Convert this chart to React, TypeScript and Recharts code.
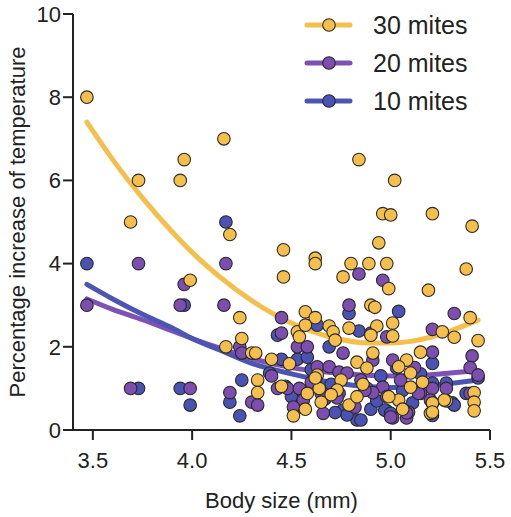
import { ComposedChart, Scatter, Line, XAxis, YAxis } from "recharts";

const xTicks = [3.5, 4.0, 4.5, 5.0, 5.5];
const yTicks = [0, 2, 4, 6, 8, 10];

// [body size (mm), % temperature increase]
const mites30: [number, number][] = [
  [3.47, 8.0], [3.73, 6.0], [3.69, 5.0], [3.94, 6.0], [3.96, 6.5], [4.16, 7.0],
  [4.19, 4.7], [3.99, 3.6], [4.24, 2.7], [4.17, 2.0], [4.25, 2.2], [4.3, 1.85],
  [4.33, 1.2], [4.33, 0.9], [4.84, 6.5], [5.02, 6.0], [4.96, 5.2], [5.0, 5.17],
  [5.21, 5.2], [5.41, 4.9], [4.94, 4.5], [4.46, 4.33], [4.62, 4.13], [4.62, 4.0],
  [4.8, 4.0], [4.89, 4.0], [4.98, 4.0], [4.46, 3.68], [4.76, 3.68], [5.38, 3.87],
  [4.99, 3.4], [5.19, 3.36], [4.9, 3.0], [4.92, 2.95], [5.4, 2.7], [5.44, 2.15],
  [5.32, 2.23], [5.26, 2.36], [5.15, 1.87], [5.42, 0.9], [5.42, 0.67], [5.42, 0.46],
  [5.28, 0.7], [5.2, 0.4], [4.57, 2.84], [4.62, 2.7], [4.53, 2.36], [4.54, 2.24],
  [4.57, 2.52], [4.69, 2.5], [4.71, 2.36], [4.72, 2.16], [4.79, 2.45], [4.93, 2.5],
  [5.01, 2.57], [5.01, 2.26], [4.9, 2.28], [4.83, 1.63], [4.88, 1.49], [4.91, 1.85],
  [5.08, 1.68], [5.04, 1.52], [5.1, 1.37], [4.32, 1.85], [4.4, 1.7], [4.49, 1.59],
  [4.63, 1.32], [4.75, 1.2], [4.64, 1.0], [4.58, 0.88], [4.65, 0.67], [4.51, 0.34],
  [4.57, 0.5], [4.79, 0.6], [4.83, 0.8], [5.04, 0.72], [4.99, 0.8], [5.1, 1.03],
  [5.16, 1.15], [5.27, 0.72], [5.21, 0.65], [5.21, 0.43], [4.73, 0.96], [4.62, 1.25],
  [4.45, 1.05], [4.7, 0.85], [4.86, 1.1], [5.06, 0.5],
];

const mites20: [number, number][] = [
  [3.47, 3.0], [3.73, 4.0], [3.69, 1.0], [3.94, 3.0], [3.96, 3.5], [3.99, 1.0],
  [4.17, 4.0], [4.16, 3.0], [4.24, 2.0], [4.25, 1.85], [4.19, 0.9], [4.3, 0.67],
  [4.33, 0.6], [4.84, 3.75], [4.96, 3.6], [4.79, 3.0], [5.32, 2.8], [5.21, 2.42],
  [5.21, 1.87], [5.41, 1.78], [5.4, 1.5], [5.44, 1.32], [5.21, 0.65], [5.28, 1.0],
  [5.21, 1.0], [4.45, 2.7], [4.45, 2.33], [4.9, 2.33], [4.98, 2.24], [4.53, 2.0],
  [4.58, 2.0], [4.76, 1.85], [4.91, 1.68], [5.01, 1.68], [4.63, 1.52], [4.69, 1.52],
  [4.74, 1.39], [4.78, 1.37], [4.85, 1.2], [4.43, 1.0], [4.48, 1.0], [4.54, 1.0],
  [4.56, 0.72], [4.65, 0.88], [4.51, 0.55], [4.74, 0.88], [4.73, 0.77], [4.96, 1.03],
  [4.98, 0.8], [5.01, 0.29], [5.08, 0.29], [5.15, 0.88], [5.09, 0.43], [5.05, 1.2],
  [5.2, 0.72], [5.08, 0.41], [4.91, 0.9], [5.14, 0.88], [5.4, 0.88], [5.0, 0.31],
  [4.4, 1.3], [4.6, 1.15], [4.82, 0.55], [4.87, 0.95], [5.12, 1.5], [4.66, 0.4],
];

const mites10: [number, number][] = [
  [3.47, 4.0], [3.73, 1.0], [3.94, 1.0], [3.96, 3.0], [3.99, 0.6], [4.17, 5.0],
  [4.25, 1.2], [4.19, 0.67], [4.24, 0.34], [4.79, 2.8], [5.04, 2.85], [5.21, 1.6],
  [5.44, 1.25], [5.38, 0.88], [5.31, 0.65], [5.21, 0.35], [4.43, 2.28], [4.63, 2.52],
  [4.84, 2.38], [4.69, 2.0], [4.45, 1.7], [4.53, 1.7], [4.39, 1.37], [4.51, 0.8],
  [4.76, 0.48], [4.83, 0.24], [4.9, 0.5], [4.88, 1.0], [4.98, 0.46], [5.11, 0.65],
  [5.03, 1.49], [5.21, 1.13], [5.28, 1.13], [5.32, 0.6], [4.97, 0.48], [5.0, 0.4],
  [4.5, 0.8], [4.78, 0.36], [4.85, 0.24], [4.6, 1.45], [4.7, 1.1], [4.95, 1.3],
  [5.15, 1.35], [4.47, 1.05], [4.55, 0.55], [4.67, 0.75], [4.72, 0.42], [4.93, 0.7],
  [5.06, 0.95], [4.58, 1.75],
];

// fitted trend curves, sampled along body size
const fitSizes = [3.47, 3.6, 3.75, 3.9, 4.0, 4.15, 4.3, 4.5, 4.7, 4.9, 5.0, 5.1, 5.2, 5.3, 5.44];
const fit30 = [7.4, 6.5, 5.58, 4.76, 4.27, 3.64, 3.11, 2.57, 2.23, 2.09, 2.09, 2.13, 2.23, 2.38, 2.64];
const fit20 = [3.15, 2.9, 2.65, 2.38, 2.2, 1.95, 1.72, 1.5, 1.38, 1.31, 1.3, 1.31, 1.33, 1.37, 1.43];
const fit10 = [3.5, 3.15, 2.78, 2.45, 2.2, 1.9, 1.6, 1.35, 1.15, 1.04, 1.02, 1.03, 1.07, 1.12, 1.2];

const series = [
  { name: "30 mites", points: mites30, fit: fit30, dot: "#F6BE4B", line: "#F5BF4C" },
  { name: "20 mites", points: mites20, fit: fit20, dot: "#7D4DB0", line: "#7E52B3" },
  { name: "10 mites", points: mites10, fit: fit10, dot: "#4A53B3", line: "#4C56B2" },
];

const FONT = "'Liberation Sans', Arial, Helvetica, sans-serif";
const INK = "#222";

const toRows = (pts: [number, number][]) => pts.map(([size, pct]) => ({ size, pct }));
const fitRows = (ys: number[]) => fitSizes.map((size, i) => ({ size, pct: ys[i] }));

const dotShape = (fill: string) => (props: any) =>
  <circle cx={props.cx} cy={props.cy} r={6.3} fill={fill} stroke="#2a2a2a" strokeWidth={1.1} />;

function MiteLegend() {
  return (
    <div style={{ position: "absolute", left: 298, top: 6, fontFamily: FONT }}>
      {series.map((s) => (
        <div key={s.name} style={{ display: "flex", alignItems: "center", height: 38 }}>
          <svg width={60} height={20}>
            <line x1={9} y1={10} x2={52} y2={10} stroke={s.line} strokeWidth={5} strokeLinecap="round" />
            <circle cx={31} cy={10} r={6.3} fill={s.dot} stroke="#2a2a2a" strokeWidth={1.1} />
          </svg>
          <span style={{ marginLeft: 15, fontSize: 25, color: INK }}>{s.name}</span>
        </div>
      ))}
    </div>
  );
}

export default function App() {
  const drawOrder = [...series].reverse();
  return (
    <div style={{ position: "absolute", left: 0, top: 0, width: 511, height: 517, background: "#fff" }}>
      <ComposedChart width={511} height={517} margin={{ top: 14, right: 21, bottom: 0, left: 0 }} style={{ fontFamily: FONT }}>
        <XAxis
          type="number"
          dataKey="size"
          domain={[3.4, 5.5]}
          ticks={xTicks}
          tickFormatter={(v: number) => v.toFixed(1)}
          height={87}
          tickSize={10}
          tickMargin={12}
          stroke={INK}
          strokeWidth={2}
          tick={{ fill: INK, fontSize: 22 }}
          label={{ value: "Body size (mm)", position: "insideBottom", offset: 9, fontSize: 22, fill: INK }}
        />
        <YAxis
          type="number"
          dataKey="pct"
          domain={[0, 10]}
          ticks={yTicks}
          width={73}
          tickSize={10}
          tickMargin={2}
          stroke={INK}
          strokeWidth={2}
          tick={{ fill: INK, fontSize: 22 }}
          label={{
            value: "Percentage increase of temperature",
            angle: -90,
            position: "insideLeft",
            offset: 17,
            fontSize: 22,
            fill: INK,
            style: { textAnchor: "middle" },
          }}
        />
        {drawOrder.map((s) => (
          <Scatter
            key={`pts-${s.name}`}
            name={s.name}
            data={toRows(s.points)}
            dataKey="pct"
            shape={dotShape(s.dot)}
            isAnimationActive={false}
          />
        ))}
        {[series[1], series[2], series[0]].map((s) => (
          <Line
            key={`fit-${s.name}`}
            data={fitRows(s.fit)}
            dataKey="pct"
            type="monotone"
            stroke={s.line}
            strokeWidth={5}
            strokeLinecap="round"
            dot={false}
            activeDot={false}
            isAnimationActive={false}
          />
        ))}
      </ComposedChart>
      <MiteLegend />
    </div>
  );
}
